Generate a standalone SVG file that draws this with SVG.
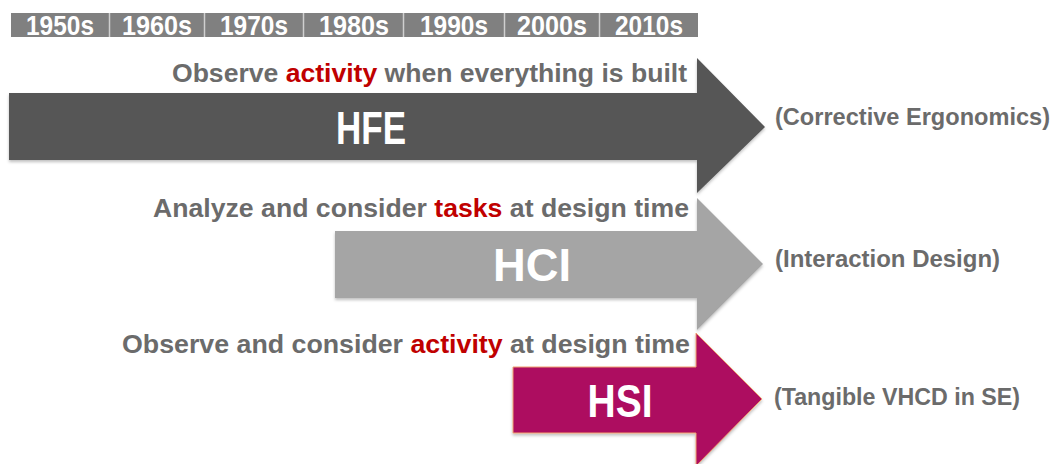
<svg xmlns="http://www.w3.org/2000/svg" width="1056" height="464" viewBox="0 0 1056 464">
<defs>
<filter id="sh" x="-5%" y="-5%" width="110%" height="120%">
<feDropShadow dx="0" dy="2" stdDeviation="1.5" flood-color="#000" flood-opacity="0.25"/>
</filter>
</defs>
<style>
text{font-family:"Liberation Sans",Arial,sans-serif;font-weight:bold}
.yr{fill:#ffffff;font-size:27px;text-anchor:middle}
.cap{fill:#6b6b6b;font-size:25px;text-anchor:end}
.red{fill:#c00000}
.big{fill:#ffffff;font-size:46px;text-anchor:middle}
.side{fill:#6b6b6b;font-size:23px}
.div{stroke:#cfcfcf;stroke-width:1.5}
</style>
<rect width="1056" height="464" fill="#ffffff"/>
<g id="timeline">
<rect x="11" y="13" width="687" height="24" fill="#808080"/>
<line class="div" x1="109.5" y1="13" x2="109.5" y2="37"/>
<line class="div" x1="204.5" y1="13" x2="204.5" y2="37"/>
<line class="div" x1="303.5" y1="13" x2="303.5" y2="37"/>
<line class="div" x1="403.5" y1="13" x2="403.5" y2="37"/>
<line class="div" x1="504.5" y1="13" x2="504.5" y2="37"/>
<line class="div" x1="599.5" y1="13" x2="599.5" y2="37"/>
<text class="yr" x="60" y="35" textLength="68" lengthAdjust="spacingAndGlyphs">1950s</text>
<text class="yr" x="157" y="35" textLength="70" lengthAdjust="spacingAndGlyphs">1960s</text>
<text class="yr" x="254" y="35" textLength="68" lengthAdjust="spacingAndGlyphs">1970s</text>
<text class="yr" x="354" y="35" textLength="70" lengthAdjust="spacingAndGlyphs">1980s</text>
<text class="yr" x="454" y="35" textLength="68" lengthAdjust="spacingAndGlyphs">1990s</text>
<text class="yr" x="552" y="35" textLength="70" lengthAdjust="spacingAndGlyphs">2000s</text>
<text class="yr" x="649" y="35" textLength="68" lengthAdjust="spacingAndGlyphs">2010s</text>
</g>
<g id="hfe">
<path d="M9,93 H697 V58 L765,127 L697,193 V160 H9 Z" fill="#575757" filter="url(#sh)"/>
<text class="big" x="371" y="144" textLength="70" lengthAdjust="spacingAndGlyphs" font-size="42">HFE</text>
<text class="cap" x="687" y="82" textLength="515" lengthAdjust="spacingAndGlyphs">Observe <tspan class="red">activity</tspan> when everything is built</text>
<text class="side" x="775" y="125" textLength="275" lengthAdjust="spacingAndGlyphs">(Corrective Ergonomics)</text>
</g>
<g id="hci">
<path d="M335,231 H697 V198 L763,264 L697,330 V298 H335 Z" fill="#a5a5a5" filter="url(#sh)"/>
<text class="big" x="532" y="281" textLength="78" lengthAdjust="spacingAndGlyphs">HCI</text>
<text class="cap" x="689" y="217" textLength="536" lengthAdjust="spacingAndGlyphs">Analyze and consider <tspan class="red">tasks</tspan> at design time</text>
<text class="side" x="775" y="267" textLength="225" lengthAdjust="spacingAndGlyphs">(Interaction Design)</text>
</g>
<g id="hsi">
<path d="M513,367 H696 V333 L762,399 L696,466 V433 H513 Z" fill="#ad1060" stroke="#f0a070" stroke-width="1" filter="url(#sh)"/>
<text class="big" x="620" y="417" textLength="65" lengthAdjust="spacingAndGlyphs">HSI</text>
<text class="cap" x="690" y="353" textLength="568" lengthAdjust="spacingAndGlyphs">Observe and consider <tspan class="red">activity</tspan> at design time</text>
<text class="side" x="774" y="405" textLength="246" lengthAdjust="spacingAndGlyphs">(Tangible VHCD in SE)</text>
</g>
<g id="connectors"></g>
</svg>
